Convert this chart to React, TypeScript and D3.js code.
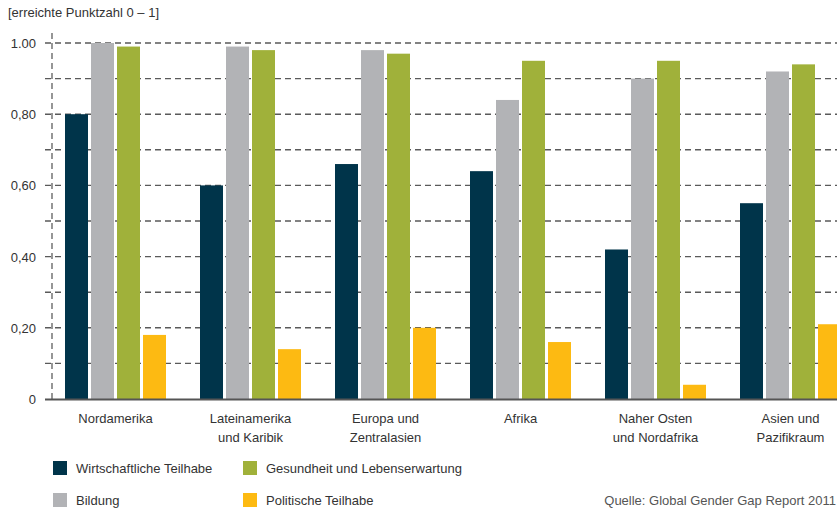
import React from "react";
import * as d3 from "d3";

const regions = [
  ["Nordamerika"],
  ["Lateinamerika", "und Karibik"],
  ["Europa und", "Zentralasien"],
  ["Afrika"],
  ["Naher Osten", "und Nordafrika"],
  ["Asien und", "Pazifikraum"],
];
const seriesNames = [
  "Wirtschaftliche Teilhabe",
  "Bildung",
  "Gesundheit und Lebenserwartung",
  "Politische Teilhabe",
];
const seriesColors = ["#00344a", "#b2b3b6", "#a0b13a", "#fdba12"];
const wirtschaft = [0.8, 0.6, 0.66, 0.64, 0.42, 0.55];
const bildung = [1.0, 0.99, 0.98, 0.84, 0.9, 0.92];
const gesundheit = [0.99, 0.98, 0.97, 0.95, 0.95, 0.94];
const politik = [0.18, 0.14, 0.2, 0.16, 0.04, 0.21];
const seriesValues = [wirtschaft, bildung, gesundheit, politik];
const yTicks = [0, 0.2, 0.4, 0.6, 0.8, 1.0];
const yTickLabels = ["0", "0,20", "0,40", "0,60", "0,80", "1.00"];
const minorTicks = [0.1, 0.3, 0.5, 0.7, 0.9];

const W = 837;
const H = 509;
const FONT = "'Liberation Sans', Arial, sans-serif";

// legend slots: two columns, two rows
const legendSlots = [
  [53, 461],
  [53, 493],
  [243, 461],
  [243, 493],
];

export default function App() {
  const y = d3.scaleLinear().domain([0, 1]).range([399, 43]);
  const groupStep = 135;
  const x0 = d3
    .scaleBand()
    .domain(regions.map((_, i) => String(i)))
    .range([48, 48 + groupStep * regions.length]);
  const x1 = d3
    .scaleBand()
    .domain(seriesNames)
    .range([17, 17 + 26 * 4 - 3])
    .paddingInner(3 / 26);

  const gridLine = (v: number, key: string) => (
    <line
      key={key}
      x1={45}
      x2={W}
      y1={y(v)}
      y2={y(v)}
      stroke="#5a5a5a"
      strokeWidth={1.4}
      strokeDasharray="6 4"
    />
  );

  return (
    <svg
      width={W}
      height={H}
      style={{ position: "absolute", left: 0, top: 0, background: "#fff" }}
      fontFamily={FONT}
    >
      <text x={8} y={17} fontSize={13} fill="#333">
        [erreichte Punktzahl 0 – 1]
      </text>

      {yTicks.filter((v) => v > 0).map((v) => gridLine(v, "g" + v))}
      {minorTicks.map((v) => gridLine(v, "m" + v))}
      <line
        x1={52}
        x2={52}
        y1={33}
        y2={399}
        stroke="#6a6a6a"
        strokeWidth={1.4}
        strokeDasharray="6 4"
      />

      {yTicks.map((v, i) => (
        <text
          key={v}
          x={36}
          y={y(v) + 5}
          textAnchor="end"
          fontSize={13}
          fill="#333"
        >
          {yTickLabels[i]}
        </text>
      ))}

      {regions.map((_, gi) => (
        <g key={gi} transform={`translate(${x0(String(gi))},0)`}>
          {seriesNames.map((s, si) => {
            const v = seriesValues[si][gi];
            return (
              <rect
                key={s}
                x={x1(s)}
                y={y(v)}
                width={x1.bandwidth()}
                height={y(0) - y(v)}
                fill={seriesColors[si]}
              />
            );
          })}
        </g>
      ))}

      <line x1={45} x2={W} y1={399.5} y2={399.5} stroke="#555" strokeWidth={2} />

      {regions.map((lines, gi) => {
        const cx = (x0(String(gi)) as number) + 17 + 50.5;
        return (
          <text key={gi} textAnchor="middle" fontSize={13} fill="#333">
            {lines.map((l, li) => (
              <tspan key={li} x={cx} y={423 + li * 19}>
                {l}
              </tspan>
            ))}
          </text>
        );
      })}

      {seriesNames.map((s, si) => {
        const [lx, ly] = legendSlots[si];
        return (
          <g key={s}>
            <rect x={lx} y={ly} width={14} height={14} fill={seriesColors[si]} />
            <text x={lx + 23} y={ly + 12} fontSize={13} fill="#333">
              {s}
            </text>
          </g>
        );
      })}

      <text x={836} y={505} textAnchor="end" fontSize={13} fill="#555">
        Quelle: Global Gender Gap Report 2011
      </text>
    </svg>
  );
}
